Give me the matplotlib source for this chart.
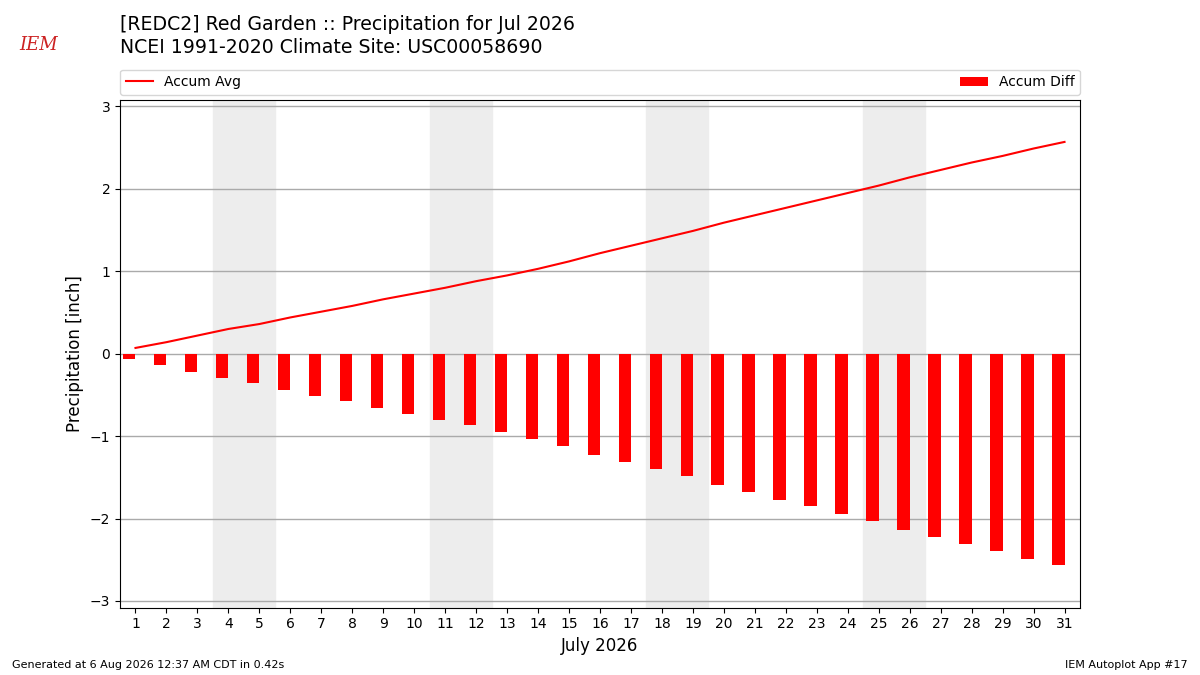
import numpy as np
import matplotlib
matplotlib.use("Agg")
import matplotlib.pyplot as plt

days = np.arange(1, 32)
accum_diff = [-0.06, -0.14, -0.22, -0.30, -0.36, -0.44, -0.51, -0.58, -0.66, -0.73,
              -0.80, -0.87, -0.95, -1.03, -1.12, -1.23, -1.31, -1.40, -1.49, -1.59,
              -1.68, -1.77, -1.85, -1.95, -2.03, -2.14, -2.22, -2.31, -2.39, -2.49,
              -2.56]
accum_avg = [0.07, 0.14, 0.22, 0.30, 0.36, 0.44, 0.51, 0.58, 0.66, 0.73,
             0.80, 0.88, 0.95, 1.03, 1.12, 1.22, 1.31, 1.40, 1.49, 1.59,
             1.68, 1.77, 1.86, 1.95, 2.04, 2.14, 2.23, 2.32, 2.40, 2.49,
             2.57]
weekends = [(4, 5), (11, 12), (18, 19), (25, 26)]

fig = plt.figure(figsize=(12, 6.75), dpi=100)
ax = fig.add_axes([0.1, 0.1, 0.8, 0.752])

for a, b in weekends:
    ax.axvspan(a - 0.5, b + 0.5, color="#ededed", zorder=0)

ax.bar(days, accum_diff, width=-0.4, align="edge", color="red", label="Accum Diff", zorder=3)
ax.plot(days, accum_avg, color="red", lw=1.5, label="Accum Avg", zorder=4)

ax.set_xlim(0.5, 31.5)
ax.set_ylim(-3.08, 3.08)
ax.set_xticks(days)
ax.set_yticks([-3, -2, -1, 0, 1, 2, 3])
ax.set_yticklabels(["\u22123", "\u22122", "\u22121", "0", "1", "2", "3"])
ax.grid(True, axis="y", color="#aaaaaa", lw=1, zorder=1)
ax.set_axisbelow(True)
ax.set_xlabel("July 2026", fontsize=12)
ax.set_ylabel("Precipitation [inch]", fontsize=12)

ax.legend(loc="lower left", bbox_to_anchor=(0, 1.01, 1, 0.05), mode="expand",
          ncol=2, fontsize=10, borderaxespad=0)

fig.text(0.1, 0.964, "[REDC2] Red Garden :: Precipitation for Jul 2026", fontsize=13.6, va="center")
fig.text(0.1, 0.930, "NCEI 1991-2020 Climate Site: USC00058690", fontsize=13.6, va="center")
fig.text(0.01, 0.01, "Generated at 6 Aug 2026 12:37 AM CDT in 0.42s", fontsize=8)
fig.text(0.99, 0.01, "IEM Autoplot App #17", fontsize=8, ha="right")
fig.text(0.032, 0.933, "IEM", fontsize=13, color="#cc2222", family="DejaVu Serif",
         style="italic", ha="center", va="center")

fig.savefig("out.png", dpi=100)
